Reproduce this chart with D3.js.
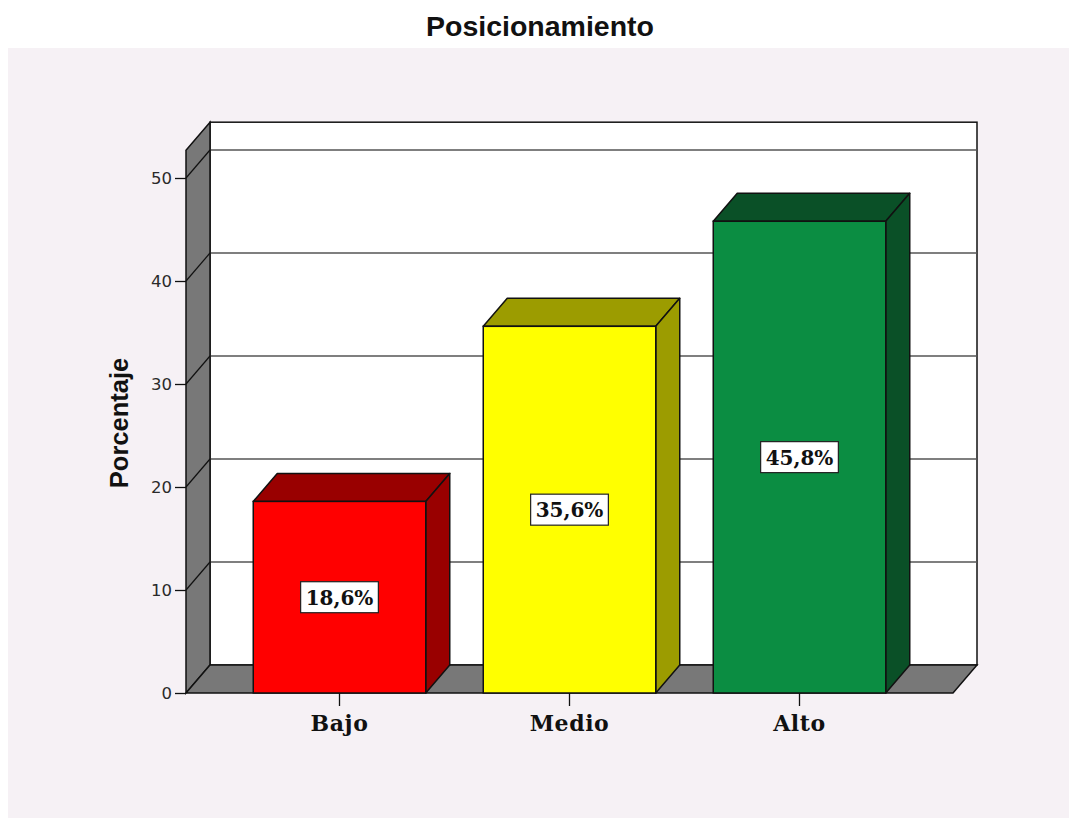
<!DOCTYPE html>
<html>
<head>
<meta charset="utf-8">
<script src="https://cdn.jsdelivr.net/npm/d3@7"></script>
<style>
  html, body { margin: 0; padding: 0; background: #ffffff; }
  svg { display: block; }
</style>
</head>
<body>
<svg id="chart" width="1069" height="818"></svg>
<script>
// Data
const categories = ["Bajo", "Medio", "Alto"];
const percentages = [18.6, 35.6, 45.8];
const valueLabels = ["18,6%", "35,6%", "45,8%"];
const yTicks = [0, 10, 20, 30, 40, 50];

// Face colours per bar: front, top/side
const frontColors = ["#ff0000", "#ffff00", "#0b8d42"];
const shadeColors = ["#990000", "#9c9c00", "#0a5027"];

const svg = d3.select("#chart");

// Background panel
svg.append("rect").attr("x", 8).attr("y", 48).attr("width", 1061).attr("height", 770)
  .attr("fill", "#f6f1f5");

// Title
svg.append("text").attr("x", 540).attr("y", 36).attr("text-anchor", "middle")
  .attr("font-family", "Liberation Sans, Arial, sans-serif").attr("font-weight", "bold")
  .attr("font-size", 28.5).attr("fill", "#111").text("Posicionamiento");

// Geometry of the 3D box
const depthX = 24, depthY = -28;
const frontLeft = 186, frontRight = 953;

const y = d3.scaleLinear().domain([0, 50]).range([693, 178]);
const yTop = 52.7; // top edge of the walls
const x = d3.scaleBand().domain(categories).range([224.5, 914.5])
  .paddingInner(0.25).paddingOuter(0.125);

const g = svg.append("g");

// Back wall
g.append("rect")
  .attr("x", frontLeft + depthX).attr("y", y(yTop) + depthY)
  .attr("width", frontRight - frontLeft).attr("height", y(0) - y(yTop))
  .attr("fill", "#ffffff").attr("stroke", "#111").attr("stroke-width", 1.5);

// Grid lines on the back wall
g.selectAll("line.grid").data(yTicks.filter(d => d > 0)).join("line")
  .attr("class", "grid")
  .attr("x1", frontLeft + depthX).attr("x2", frontRight + depthX)
  .attr("y1", d => y(d) + depthY).attr("y2", d => y(d) + depthY)
  .attr("stroke", "#555").attr("stroke-width", 1.5);

// Left wall
const wallPts = [
  [frontLeft, y(yTop)], [frontLeft + depthX, y(yTop) + depthY],
  [frontLeft + depthX, y(0) + depthY], [frontLeft, y(0)]
];
g.append("polygon").attr("points", wallPts.map(p => p.join(",")).join(" "))
  .attr("fill", "#787878").attr("stroke", "#111").attr("stroke-width", 1.5);

// Diagonal grid lines on the left wall
g.selectAll("line.wallgrid").data(yTicks.filter(d => d > 0)).join("line")
  .attr("class", "wallgrid")
  .attr("x1", frontLeft).attr("x2", frontLeft + depthX)
  .attr("y1", d => y(d)).attr("y2", d => y(d) + depthY)
  .attr("stroke", "#111").attr("stroke-width", 1.2);

// Floor
const floorPts = [
  [frontLeft, y(0)], [frontRight, y(0)],
  [frontRight + depthX, y(0) + depthY], [frontLeft + depthX, y(0) + depthY]
];
g.append("polygon").attr("points", floorPts.map(p => p.join(",")).join(" "))
  .attr("fill", "#787878").attr("stroke", "#111").attr("stroke-width", 1.5);

// Bars
const bars = g.selectAll("g.bar").data(categories).join("g").attr("class", "bar");
bars.each(function(c, i) {
  const sel = d3.select(this);
  const x0 = x(c), x1 = x(c) + x.bandwidth();
  const yt = y(percentages[i]), yb = y(0);
  const pts = arr => arr.map(p => p.join(",")).join(" ");
  // top face
  sel.append("polygon")
    .attr("points", pts([[x0, yt], [x1, yt], [x1 + depthX, yt + depthY], [x0 + depthX, yt + depthY]]))
    .attr("fill", shadeColors[i]).attr("stroke", "#111").attr("stroke-width", 1.5)
    .attr("stroke-linejoin", "round");
  // side face
  sel.append("polygon")
    .attr("points", pts([[x1, yt], [x1 + depthX, yt + depthY], [x1 + depthX, yb + depthY], [x1, yb]]))
    .attr("fill", shadeColors[i]).attr("stroke", "#111").attr("stroke-width", 1.5)
    .attr("stroke-linejoin", "round");
  // front face
  sel.append("rect")
    .attr("x", x0).attr("y", yt).attr("width", x1 - x0).attr("height", yb - yt)
    .attr("fill", frontColors[i]).attr("stroke", "#111").attr("stroke-width", 1.5);
});

// Value labels in boxes at half bar height
const labels = g.selectAll("g.vlabel").data(categories).join("g").attr("class", "vlabel");
labels.each(function(c, i) {
  const sel = d3.select(this);
  const cx = x(c) + x.bandwidth() / 2;
  const cy = y(percentages[i] / 2);
  const box = sel.append("rect");
  const t = sel.append("text").attr("x", cx).attr("y", cy).attr("dy", "0.37em")
    .attr("text-anchor", "middle")
    .attr("font-family", "DejaVu Serif, serif").attr("font-weight", "bold")
    .attr("font-size", 20).attr("fill", "#111").text(valueLabels[i]);
  const bb = t.node().getBBox();
  const w = bb.width + 10, h = 31;
  box.attr("x", cx - w / 2).attr("y", cy - h / 2).attr("width", w).attr("height", h)
    .attr("fill", "#ffffff").attr("stroke", "#222").attr("stroke-width", 1.2);
});

// Y axis
const yAxis = svg.append("g").attr("transform", `translate(${frontLeft},0)`)
  .call(d3.axisLeft(y).tickValues(yTicks).tickSize(11).tickPadding(3));
yAxis.select(".domain").remove();
yAxis.selectAll("line").attr("stroke", "#111").attr("stroke-width", 1.3);
yAxis.selectAll("text").attr("font-family", "DejaVu Sans, sans-serif")
  .attr("font-size", 16.5).attr("fill", "#2a2a2a");

// X axis
const xAxis = svg.append("g").attr("transform", `translate(0,${y(0)})`)
  .call(d3.axisBottom(x).tickSize(13).tickPadding(9));
xAxis.select(".domain").remove();
xAxis.selectAll("line").attr("stroke", "#111").attr("stroke-width", 1.3);
xAxis.selectAll("text").attr("font-family", "DejaVu Serif, serif").attr("font-weight", "bold")
  .attr("font-size", 22).attr("letter-spacing", "0.6px").attr("fill", "#111");

// Y axis title
svg.append("text").attr("transform", "translate(128,423) rotate(-90)")
  .attr("text-anchor", "middle")
  .attr("font-family", "Liberation Sans, Arial, sans-serif").attr("font-weight", "bold")
  .attr("font-size", 25.5).attr("fill", "#111").text("Porcentaje");
</script>
</body>
</html>
